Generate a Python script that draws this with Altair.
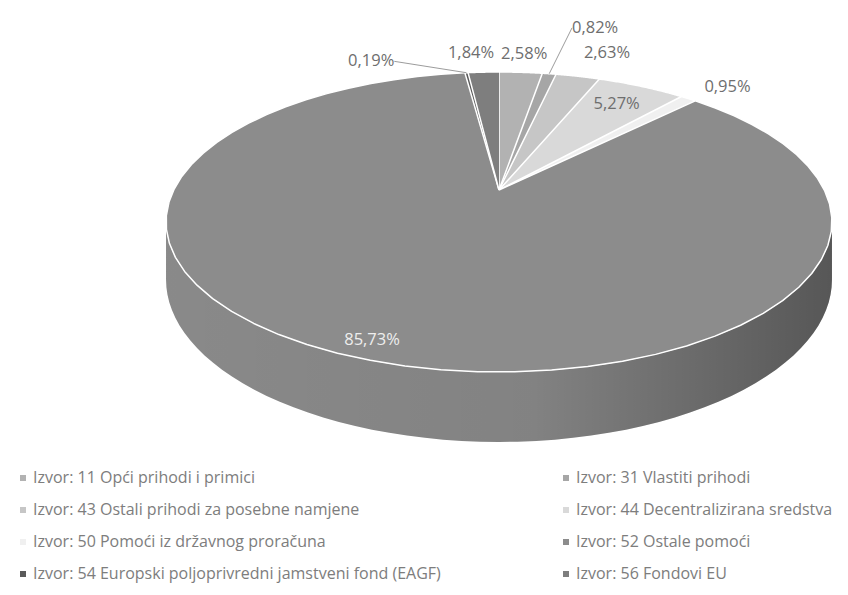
import math
import altair as alt
import pandas as pd

# ---------------- data ----------------
categories = [
    "Izvor: 11 Opći prihodi i primici",
    "Izvor: 31 Vlastiti prihodi",
    "Izvor: 43 Ostali prihodi za posebne namjene",
    "Izvor: 44 Decentralizirana sredstva",
    "Izvor: 50 Pomoći iz državnog proračuna",
    "Izvor: 52 Ostale pomoći",
    "Izvor: 54 Europski poljoprivredni jamstveni fond (EAGF)",
    "Izvor: 56 Fondovi EU",
]
shares = [2.58, 0.82, 2.63, 5.27, 0.95, 85.73, 0.19, 1.84]

# ---------------- style / layout ----------------
colors = ["#b2b2b2", "#a6a6a6", "#c6c6c6", "#d9d9d9", "#f0f0f0", "#8c8c8c", "#5a5a5a", "#7e7e7e"]
label_r = [1.2, 1.52, 1.257, 0.8, 1.15, 0.9, 1.12, 1.2]      # radial label distance (pie radius = 1)
label_dx = [0, 3, 13, 0, 15, -14, -69, -10]                  # horizontal nudge of label
label_align = ["center", "left", "center", "center", "center", "center", "right", "center"]
leader = [0, 1, 0, 0, 0, 0, 1, 0]

FONT = "Open Sans"
W, H = 832, 579
CX, AP = 491, 325.3          # horizontal centre / half width of the tilted pie
PA, PB, PC = 104.35, 182, -0.21333   # perspective projection of the top face
D0 = 55                      # depth of the pie side
TR = math.acos(PC)           # right silhouette angle
TL = 2 * math.pi - TR        # left silhouette angle
STEPS = 60

df = pd.DataFrame({
    "izvor": categories,
    "pct": shares,
    "idx": list(range(len(categories))),
    "lr": label_r,
    "ldx": label_dx,
    "al": label_align,
    "lead": leader,
    "txt": [f"{v:.2f}".replace(".", ",") + "%" for v in shares],
})

X = lambda f: alt.X(f"{f}:Q", scale=alt.Scale(domain=[0, W], nice=False, zero=False), axis=None)
Y = lambda f: alt.Y(f"{f}:Q", scale=alt.Scale(domain=[0, H], nice=False, zero=False, reverse=True), axis=None)

legend = alt.Legend(
    title=None, orient="none", legendX=7, legendY=462, columns=2, direction="horizontal",
    symbolType="square", symbolSize=36, symbolStrokeWidth=0,
    labelFont=FONT, labelFontSize=16, labelColor="#7d7d7d", labelLimit=700,
    labelOffset=2, rowPadding=16, columnPadding=117,
)
fill_enc = alt.Fill("izvor:N", scale=alt.Scale(domain=categories, range=colors), legend=legend)

base = (
    alt.Chart(df)
    .transform_window(cum="sum(pct)", sort=[alt.SortField("idx")])
    .transform_joinaggregate(total="sum(pct)")
    .transform_calculate(
        t0="2*PI*(datum.cum - datum.pct)/datum.total",
        t1="2*PI*datum.cum/datum.total",
    )
)

# side (front wall) of the 3D pie
side_data = (
    base.transform_calculate(s0=f"max(datum.t0, {TR})", s1=f"min(datum.t1, {TL})")
    .transform_filter("datum.s1 > datum.s0")
    .transform_calculate(ks=f"sequence(0, {STEPS + 1})")
    .transform_flatten(["ks"], as_=["k"])
    .transform_calculate(
        t=f"datum.s0 + (datum.s1 - datum.s0) * datum.k / {STEPS}",
        u="sin(datum.t)",
        v="-cos(datum.t)",
        w=f"1 + ({PC}) * datum.v",
        px=f"{CX} + {AP} * datum.u / datum.w",
        py=f"({PA} * datum.v + {PB}) / datum.w",
        py2=f"datum.py + {D0} / datum.w",
    )
)
side = side_data.mark_area(strokeWidth=0).encode(
    x=X("px"), y=Y("py"), y2="py2:Q", detail="izvor:N", fill=fill_enc
)
shade = side_data.mark_area(
    strokeWidth=0,
    color=alt.Gradient(
        gradient="linear",
        stops=[
            alt.GradientStop(color="rgba(0,0,0,0.02)", offset=0),
            alt.GradientStop(color="rgba(0,0,0,0.07)", offset=0.55),
            alt.GradientStop(color="rgba(0,0,0,0.38)", offset=1),
        ],
        x1=0, x2=1, y1=0, y2=0,
    ),
).encode(x=X("px"), y=Y("py"), y2="py2:Q", detail="izvor:N")

# top face slices
top = (
    base.transform_calculate(ks=f"sequence(-1, {STEPS + 1})")
    .transform_flatten(["ks"], as_=["k"])
    .transform_calculate(
        t=f"datum.t0 + (datum.t1 - datum.t0) * max(datum.k, 0) / {STEPS}",
        u="datum.k < 0 ? 0 : sin(datum.t)",
        v="datum.k < 0 ? 0 : -cos(datum.t)",
        w=f"1 + ({PC}) * datum.v",
        px=f"{CX} + {AP} * datum.u / datum.w",
        py=f"({PA} * datum.v + {PB}) / datum.w",
    )
    .mark_line(stroke="white", strokeWidth=1.5, strokeJoin="round")
    .encode(x=X("px"), y=Y("py"), order="k:Q", detail="izvor:N", fill=fill_enc)
)

# labels
lab = base.transform_calculate(
    tm="(datum.t0 + datum.t1) / 2",
    lu="datum.lr * sin(datum.tm)",
    lv="-datum.lr * cos(datum.tm)",
    lw=f"1 + ({PC}) * datum.lv",
    lx=f"{CX} + {AP} * datum.lu / datum.lw + datum.ldx",
    ly=f"({PA} * datum.lv + {PB}) / datum.lw",
    eu="sin(datum.tm)",
    ev="-cos(datum.tm)",
    ew=f"1 + ({PC}) * datum.ev",
    ex=f"{CX} + {AP} * datum.eu / datum.ew",
    ey=f"({PA} * datum.ev + {PB}) / datum.ew",
)

rules = lab.transform_filter("datum.lead == 1").mark_rule(color="#9c9c9c", strokeWidth=1).encode(
    x=X("ex"), y=Y("ey"), x2="lx:Q", y2="ly:Q"
)

texts = []
for a in ["center", "left", "right"]:
    texts.append(
        lab.transform_filter(f"datum.al == '{a}'")
        .mark_text(align=a, baseline="middle", font=FONT, fontSize=16.5)
        .encode(
            x=X("lx"), y=Y("ly"), text="txt:N",
            color=alt.condition(alt.datum.idx == 5, alt.value("#eeeeee"), alt.value("#6e6e6e")),
        )
    )

chart = (
    alt.layer(side, shade, top, rules, *texts)
    .properties(width=W, height=H, padding=0, autosize=alt.AutoSizeParams(type="none"), background="white")
    .configure_view(strokeWidth=0)
)

chart.save("out.html", embed_options={"renderer": "svg", "actions": False})
